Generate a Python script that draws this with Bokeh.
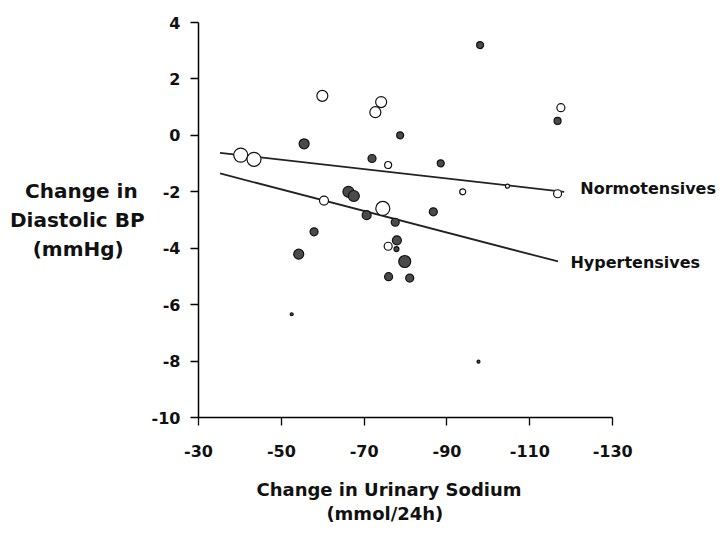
from bokeh.plotting import figure
from bokeh.models import Range1d, FixedTicker, Label, ColumnDataSource, LinearAxis
from bokeh.embed import file_html
from bokeh.resources import INLINE

# ---- data ----
normo_x = [-40.2, -43.4, -59.9, -74.1, -72.7, -75.8, -60.3, -74.5, -75.8, -93.8, -117.5, -116.7, -104.6]
normo_y = [-0.70, -0.85, 1.40, 1.18, 0.82, -1.05, -2.31, -2.59, -3.93, -2.00, 0.98, -2.07, -1.80]
normo_w = [14, 14, 11, 11, 11, 7, 9, 14, 8, 6, 8, 8, 4]

hyper_x = [-55.5, -71.9, -78.7, -88.5, -66.2, -67.5, -70.6, -77.5, -86.7, -57.9, -54.2,
           -77.9, -77.8, -79.8, -75.9, -81.0, -52.5, -97.6, -98.0, -116.7]
hyper_y = [-0.30, -0.82, 0.00, -0.99, -2.00, -2.15, -2.83, -3.08, -2.71, -3.42, -4.21,
           -3.72, -4.03, -4.47, -5.01, -5.06, -6.34, -8.02, 3.20, 0.51]
hyper_w = [10, 8, 7, 7, 11, 11, 9, 8, 8, 8, 10, 9, 5, 12, 8, 8, 3, 3, 7, 7]

normo_fit_x = [-35.2, -118.3]
normo_fit_y = [-0.62, -2.00]
hyper_fit_x = [-35.2, -116.8]
hyper_fit_y = [-1.35, -4.47]

x_ticks = [-30, -50, -70, -90, -110, -130]
y_ticks = [-10, -8, -6, -4, -2, 0, 2, 4]

x_title = ["Change in Urinary Sodium", "(mmol/24h)"]
y_title = ["Change in", "Diastolic BP", "(mmHg)"]

FONT = "DejaVu Sans"
INK = "#111111"
NB = "\u00a0"

p = figure(width=719, height=528, output_backend="svg", toolbar_location=None,
           x_range=Range1d(-30, -155.8), y_range=Range1d(-10, 4))
p.min_border = 0
p.min_border_left = 198
p.min_border_right = 0
p.min_border_top = 22
p.min_border_bottom = 111
p.outline_line_color = None
p.background_fill_color = "white"
p.border_fill_color = "white"
p.xgrid.visible = False
p.ygrid.visible = False

for ax, ticks in ((p.xaxis[0], x_ticks), (p.yaxis[0], y_ticks)):
    ax.ticker = FixedTicker(ticks=ticks)
    ax.bounds = (min(ticks), max(ticks))
    ax.major_label_overrides = {t: str(t) for t in ticks}
    ax.axis_line_color = "black"
    ax.axis_line_width = 1.5
    ax.major_tick_line_color = "black"
    ax.major_tick_line_width = 1.3
    ax.major_tick_in = 0
    ax.major_tick_out = 8
    ax.minor_tick_line_color = None
    ax.major_label_text_font = FONT
    ax.major_label_text_font_style = "bold"
    ax.major_label_text_font_size = "16px"
    ax.major_label_text_color = INK
p.xaxis.major_label_standoff = 19
p.yaxis.major_label_standoff = 10

# y-axis title (horizontal, three lines; right-aligned by bokeh, padded to look centred)
yax = p.yaxis[0]
yax.axis_label = "\n".join([y_title[0] + NB, y_title[1], y_title[2] + NB * 3])
yax.axis_label_orientation = "horizontal"
yax.axis_label_standoff = 4
yax.axis_label_text_font = FONT
yax.axis_label_text_font_style = "bold"
yax.axis_label_text_font_size = "20px"
yax.axis_label_text_color = INK
yax.axis_label_text_line_height = 1.21

# x-axis title: two extra, invisible axes whose single tick label is the title line
for txt, tick, standoff in ((x_title[0], -76, 19), (x_title[1], -75, 0)):
    xt = LinearAxis(ticker=FixedTicker(ticks=[tick]), major_label_overrides={tick: txt},
                    axis_line_color=None, major_tick_line_color=None, minor_tick_line_color=None,
                    major_tick_out=0, major_tick_in=0, major_label_standoff=standoff,
                    major_label_text_font=FONT, major_label_text_font_style="bold",
                    major_label_text_font_size="18px", major_label_text_color=INK)
    p.add_layout(xt, "below")

# regression lines
p.line(normo_fit_x, normo_fit_y, line_color="#222222", line_width=1.8)
p.line(hyper_fit_x, hyper_fit_y, line_color="#222222", line_width=1.8)

# points
ns = ColumnDataSource(dict(x=normo_x, y=normo_y, s=normo_w))
hs = ColumnDataSource(dict(x=hyper_x, y=hyper_y, s=hyper_w))
p.scatter("x", "y", size="s", source=hs, marker="circle",
          fill_color="#4a4a4a", line_color=INK, line_width=1.2)
p.scatter("x", "y", size="s", source=ns, marker="circle",
          fill_color="white", line_color=INK, line_width=1.2)

# series labels
p.add_layout(Label(x=-122.2, y=-1.88, text="Normotensives", text_font=FONT,
                   text_font_style="bold", text_font_size="16px", text_color=INK,
                   text_align="left", text_baseline="middle"))
p.add_layout(Label(x=-119.8, y=-4.51, text="Hypertensives", text_font=FONT,
                   text_font_style="bold", text_font_size="16px", text_color=INK,
                   text_align="left", text_baseline="middle"))

open("out.html", "w").write(file_html(p, INLINE))
